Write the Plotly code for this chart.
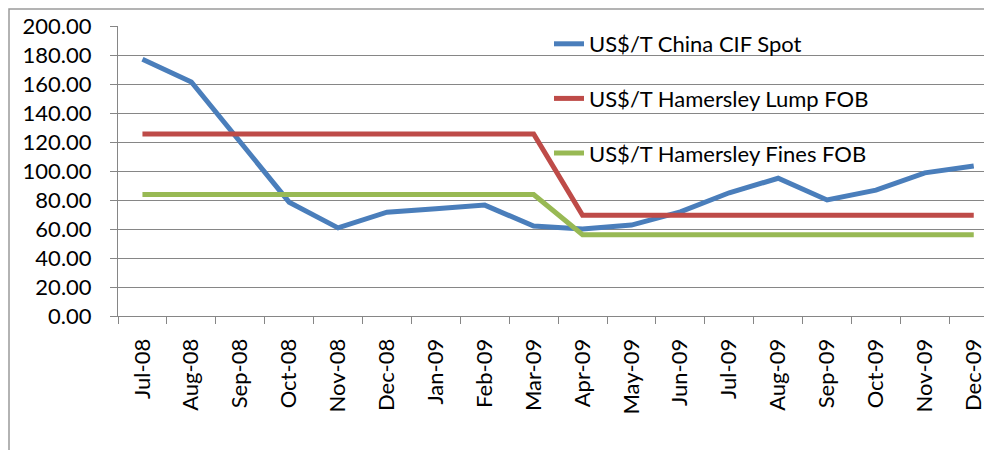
import plotly.graph_objects as go

months = ["Jul-08", "Aug-08", "Sep-08", "Oct-08", "Nov-08", "Dec-08", "Jan-09", "Feb-09", "Mar-09",
          "Apr-09", "May-09", "Jun-09", "Jul-09", "Aug-09", "Sep-09", "Oct-09", "Nov-09", "Dec-09"]
china_cif_spot = [177.0, 161.4, 120.0, 78.5, 60.8, 71.6, 74.0, 76.5, 62.0,
                  60.0, 62.7, 71.8, 85.0, 95.0, 80.0, 86.8, 98.7, 103.5]
hamersley_lump = [125.6, 125.6, 125.6, 125.6, 125.6, 125.6, 125.6, 125.6, 125.6,
                  69.4, 69.4, 69.4, 69.4, 69.4, 69.4, 69.4, 69.4, 69.4]
hamersley_fines = [83.8, 83.8, 83.8, 83.8, 83.8, 83.8, 83.8, 83.8, 83.8,
                   56.0, 56.0, 56.0, 56.0, 56.0, 56.0, 56.0, 56.0, 56.0]
series_names = ["US$/T China CIF Spot", "US$/T Hamersley Lump FOB", "US$/T Hamersley Fines FOB"]
y_ticks = [0, 20, 40, 60, 80, 100, 120, 140, 160, 180, 200]

colors = ["#4A7EBB", "#BE4B48", "#98B954"]
FONT = "Lato, 'Open Sans', sans-serif"
FS = 22

fig = go.Figure()
for i, (name, vals) in enumerate(zip(series_names, [china_cif_spot, hamersley_lump, hamersley_fines])):
    fig.add_trace(go.Scatter(
        x=months, y=vals, name=name, mode="lines",
        line=dict(color=colors[i], width=5),
        legendgroup=f"g{i}",
    ))

# page body has an 8px margin; figure sized/placed to compensate
OFF = 8
L, T, B = 118 - OFF, 26 - OFF, 134
W, H = 992 - OFF, 450 - OFF
pw = W - L
ph = H - T - B
cat_w = 48.9
xmax = -0.5 + pw / cat_w

fig.update_layout(
    width=W, height=H,
    margin=dict(l=L, r=0, t=T, b=B, pad=0),
    paper_bgcolor="white", plot_bgcolor="white",
    font=dict(family=FONT, size=FS, color="black"),
    showlegend=True,
    legend=dict(
        x=(549 - OFF - L) / pw, y=1 - (23 - OFF - T) / ph, xanchor="left", yanchor="top",
        bgcolor="rgba(0,0,0,0)", font=dict(size=FS, family=FONT),
        tracegroupgap=23, itemwidth=30,
    ),
    xaxis=dict(
        range=[-0.5, xmax], type="category",
        showgrid=False, showline=True, linecolor="#868686", linewidth=1,
        ticks="outside", ticklen=7, tickcolor="#868686", tickson="boundaries",
        tickangle=-90, tickfont=dict(size=FS, family=FONT),
        ticklabelstandoff=13,
    ),
    yaxis=dict(
        range=[0, 200], tickmode="array", tickvals=y_ticks,
        ticktext=[f"{v:.2f}" for v in y_ticks],
        showgrid=True, gridcolor="#868686", gridwidth=1,
        showline=True, linecolor="#868686", linewidth=1,
        ticks="outside", ticklen=7, tickcolor="#868686",
        tickfont=dict(size=FS, family=FONT), ticklabelstandoff=14,
        zeroline=False,
    ),
)

# outer chart border (top and left edges visible)
bx = (1 - L) / pw
by_top = (H - B - 1) / ph
fig.add_shape(type="path", xref="paper", yref="paper",
              path=f"M {bx} -0.6 L {bx} {by_top} L 1.2 {by_top}",
              line=dict(color="#9A9A9A", width=1.5))

fig.write_html("out.html")
